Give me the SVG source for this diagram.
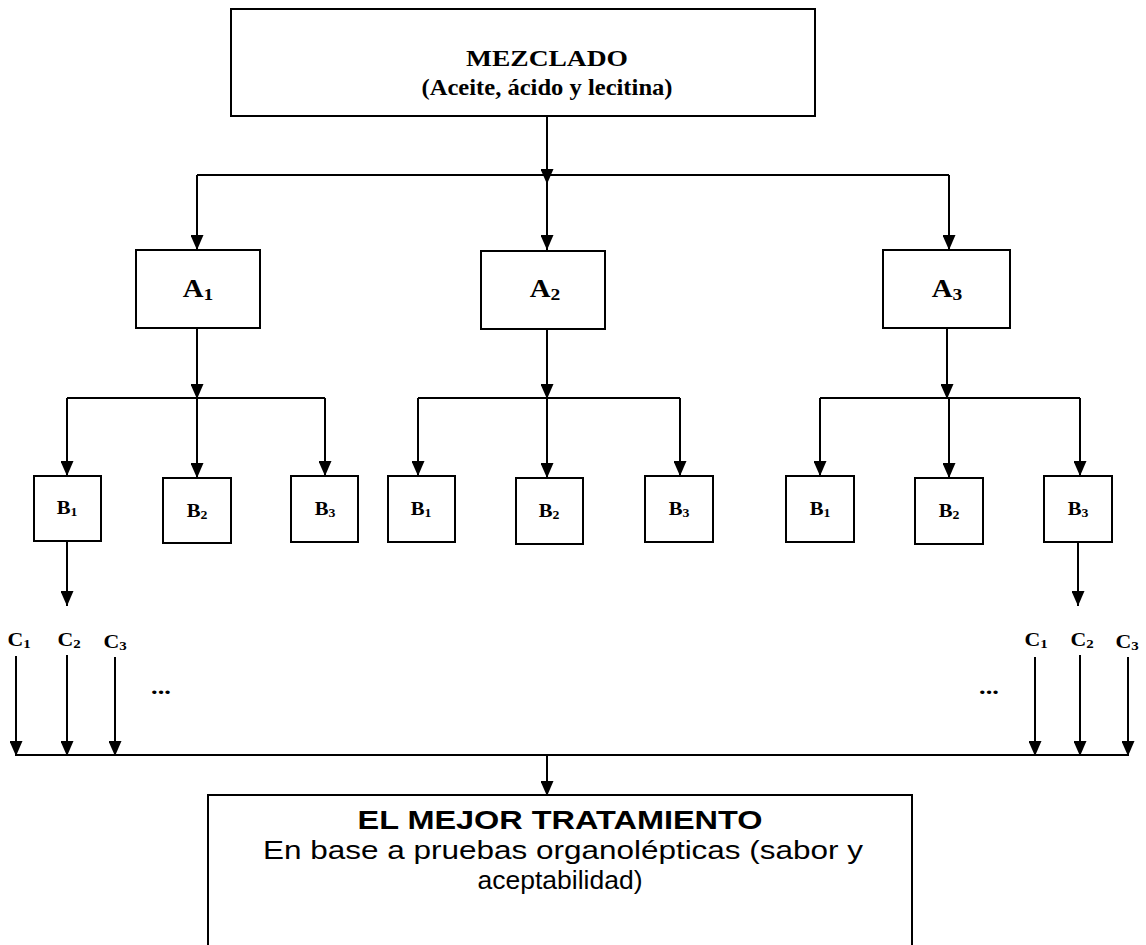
<svg xmlns="http://www.w3.org/2000/svg" width="1146" height="945" viewBox="0 0 1146 945">
<style>
.box{fill:#fff;stroke:#000;stroke-width:2}
.ln{stroke:#000;stroke-width:2;fill:none}
.ar{stroke:#000;stroke-width:2;fill:none;marker-end:url(#ah)}
.tb{font-family:"Liberation Serif","Times New Roman",serif;font-weight:bold;fill:#000;text-anchor:middle}
.sa{font-family:"Liberation Sans",Arial,sans-serif;fill:#000;text-anchor:middle}
.la{font-size:25px}.la tspan{font-size:17px}
.lb{font-size:18px}.lb tspan{font-size:12px}
.lc{font-size:19px}.lc tspan{font-size:13px}
</style>
<defs>
<marker id="ah" viewBox="0 0 15 13" refX="15" refY="6.5" markerWidth="15" markerHeight="13" orient="auto" markerUnits="userSpaceOnUse">
<path d="M0,0 L15,6.5 L0,13 z" fill="#000"/>
</marker>
</defs>
<rect width="1146" height="945" fill="#fff"/>
<g id="connectors">
<line class="ar" x1="547" y1="116" x2="547" y2="184"/>
<line class="ln" x1="197" y1="175" x2="949" y2="175"/>
<line class="ar" x1="197" y1="175" x2="197" y2="250"/>
<line class="ar" x1="547" y1="175" x2="547" y2="250"/>
<line class="ar" x1="949" y1="175" x2="949" y2="250"/>
<line class="ar" x1="197" y1="328" x2="197" y2="399"/>
<line class="ln" x1="67" y1="398" x2="325" y2="398"/>
<line class="ar" x1="67" y1="398" x2="67" y2="476"/>
<line class="ar" x1="197" y1="398" x2="197" y2="478"/>
<line class="ar" x1="325" y1="398" x2="325" y2="476"/>
<line class="ar" x1="547" y1="328" x2="547" y2="399"/>
<line class="ln" x1="418" y1="398" x2="680" y2="398"/>
<line class="ar" x1="418" y1="398" x2="418" y2="476"/>
<line class="ar" x1="547" y1="398" x2="547" y2="478"/>
<line class="ar" x1="680" y1="398" x2="680" y2="476"/>
<line class="ar" x1="947" y1="328" x2="947" y2="399"/>
<line class="ln" x1="820" y1="398" x2="1080" y2="398"/>
<line class="ar" x1="820" y1="398" x2="820" y2="476"/>
<line class="ar" x1="949" y1="398" x2="949" y2="478"/>
<line class="ar" x1="1080" y1="398" x2="1080" y2="476"/>
<line class="ar" x1="67" y1="542" x2="67" y2="606"/>
<line class="ar" x1="1078" y1="542" x2="1078" y2="606"/>
<line class="ar" x1="16" y1="656" x2="16" y2="756"/>
<line class="ar" x1="67" y1="655" x2="67" y2="756"/>
<line class="ar" x1="115" y1="657" x2="115" y2="756"/>
<line class="ar" x1="1035" y1="657" x2="1035" y2="756"/>
<line class="ar" x1="1080" y1="655" x2="1080" y2="756"/>
<line class="ar" x1="1128" y1="657" x2="1128" y2="756"/>
<line class="ln" x1="16" y1="755" x2="1128" y2="755"/>
<line class="ar" x1="547" y1="755" x2="547" y2="796"/>
</g>
<g id="mezclado">
<rect class="box" x="231" y="9" width="584" height="107"/>
<text class="tb" x="547" y="66" font-size="24" textLength="162" lengthAdjust="spacingAndGlyphs">MEZCLADO</text>
<text class="tb" x="547" y="95" font-size="23" textLength="251" lengthAdjust="spacingAndGlyphs">(Aceite, ácido y lecitina)</text>
</g>
<g id="A1"><rect class="box" x="136" y="250" width="124" height="78"/><text class="tb la" transform="matrix(1.15,0,0,1,198,297)">A<tspan dy="3">1</tspan></text></g>
<g id="A2"><rect class="box" x="481" y="251" width="124" height="78"/><text class="tb la" transform="matrix(1.15,0,0,1,545,297)">A<tspan dy="3">2</tspan></text></g>
<g id="A3"><rect class="box" x="883" y="250" width="127" height="78"/><text class="tb la" transform="matrix(1.15,0,0,1,947,297)">A<tspan dy="3">3</tspan></text></g>
<g id="B1a"><rect class="box" x="34" y="476" width="67" height="65"/><text class="tb lb" transform="matrix(1.15,0,0,1,67,514)">B<tspan dy="2">1</tspan></text></g>
<g id="B2a"><rect class="box" x="163" y="478" width="68" height="65"/><text class="tb lb" transform="matrix(1.15,0,0,1,197,517)">B<tspan dy="2">2</tspan></text></g>
<g id="B3a"><rect class="box" x="291" y="476" width="67" height="66"/><text class="tb lb" transform="matrix(1.15,0,0,1,325,515)">B<tspan dy="2">3</tspan></text></g>
<g id="B1b"><rect class="box" x="388" y="476" width="67" height="66"/><text class="tb lb" transform="matrix(1.15,0,0,1,421,515)">B<tspan dy="2">1</tspan></text></g>
<g id="B2b"><rect class="box" x="516" y="478" width="67" height="66"/><text class="tb lb" transform="matrix(1.15,0,0,1,549,517)">B<tspan dy="2">2</tspan></text></g>
<g id="B3b"><rect class="box" x="645" y="476" width="68" height="66"/><text class="tb lb" transform="matrix(1.15,0,0,1,679,515)">B<tspan dy="2">3</tspan></text></g>
<g id="B1c"><rect class="box" x="786" y="476" width="68" height="66"/><text class="tb lb" transform="matrix(1.15,0,0,1,820,515)">B<tspan dy="2">1</tspan></text></g>
<g id="B2c"><rect class="box" x="915" y="478" width="68" height="66"/><text class="tb lb" transform="matrix(1.15,0,0,1,949,517)">B<tspan dy="2">2</tspan></text></g>
<g id="B3c"><rect class="box" x="1044" y="476" width="68" height="66"/><text class="tb lb" transform="matrix(1.15,0,0,1,1078,515)">B<tspan dy="2">3</tspan></text></g>
<g id="C-left">
<text class="tb lc" transform="matrix(1.15,0,0,1,19,646)">C<tspan dy="2">1</tspan></text>
<text class="tb lc" transform="matrix(1.15,0,0,1,69,646)">C<tspan dy="2">2</tspan></text>
<text class="tb lc" transform="matrix(1.15,0,0,1,115,648)">C<tspan dy="2">3</tspan></text>
<text class="tb" font-size="22" transform="matrix(1.2,0,0,1,161,694)">...</text>
</g>
<g id="C-right">
<text class="tb lc" transform="matrix(1.15,0,0,1,1036,646)">C<tspan dy="2">1</tspan></text>
<text class="tb lc" transform="matrix(1.15,0,0,1,1082,646)">C<tspan dy="2">2</tspan></text>
<text class="tb lc" transform="matrix(1.15,0,0,1,1127,648)">C<tspan dy="2">3</tspan></text>
<text class="tb" font-size="22" transform="matrix(1.2,0,0,1,989,694)">...</text>
</g>
<g id="mejor">
<path class="ln" d="M208,950 V795 H912 V950"/>
<text class="sa" x="560" y="829" font-size="25" font-weight="bold" textLength="405" lengthAdjust="spacingAndGlyphs">EL MEJOR TRATAMIENTO</text>
<text class="sa" x="563" y="859" font-size="25" textLength="600" lengthAdjust="spacingAndGlyphs">En base a pruebas organolépticas (sabor y</text>
<text class="sa" x="560" y="889" font-size="25" textLength="165" lengthAdjust="spacingAndGlyphs">aceptabilidad)</text>
</g>
</svg>
